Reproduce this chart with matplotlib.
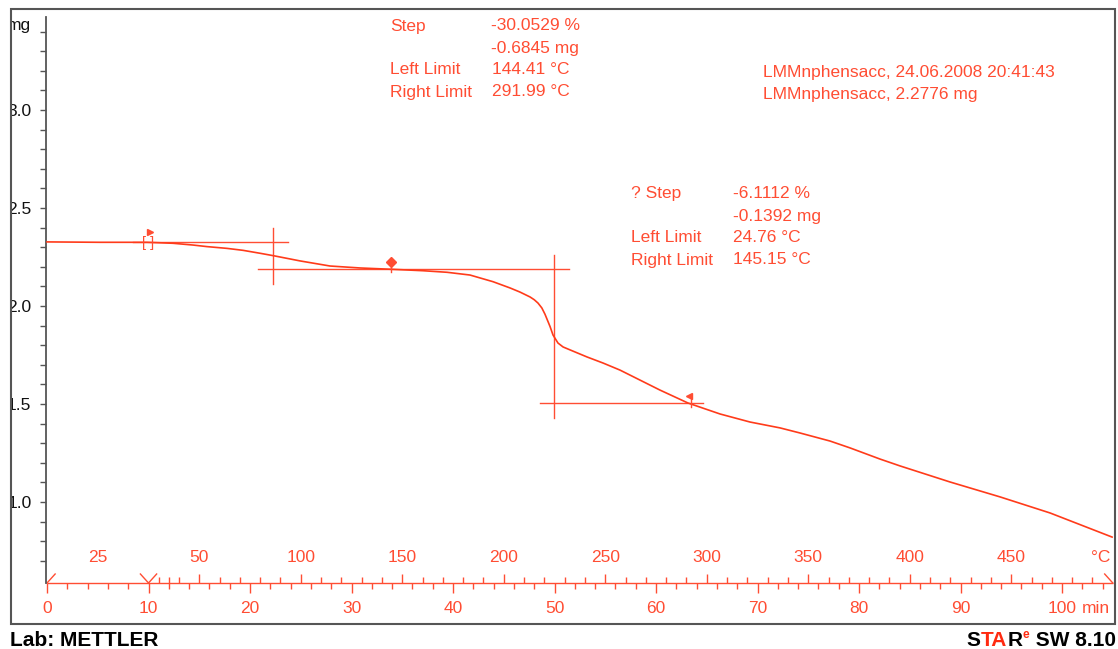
import numpy as np
import matplotlib
matplotlib.use("Agg")
import matplotlib.pyplot as plt
from matplotlib.patches import Rectangle
from matplotlib.ticker import FixedLocator
import matplotlib.transforms as mtransforms

plt.rcParams['font.family'] = ['Liberation Sans', 'DejaVu Sans']

# ---- TGA measurement: time (min) vs sample mass (mg) ----
time_min = [0.0, 5.22, 9.85, 12.41, 14.38, 15.76, 17.73, 19.31, 20.99, 22.27,
            23.65, 24.93, 27.88, 30.84, 34.09, 37.04, 39.41, 41.67, 43.94, 45.62,
            46.60, 47.59, 48.00, 48.37, 48.75, 49.06, 49.56, 49.85, 50.34, 50.84,
            51.53, 53.20, 54.78, 56.45, 58.42, 60.39, 63.15, 66.31, 69.26, 72.22,
            74.19, 77.14, 79.11, 82.07, 84.04, 88.97, 93.89, 98.82, 104.93]
mass_mg = [2.327, 2.325, 2.325, 2.320, 2.311, 2.303, 2.294, 2.284, 2.269, 2.257,
           2.243, 2.230, 2.204, 2.194, 2.187, 2.180, 2.172, 2.158, 2.124, 2.092,
           2.071, 2.046, 2.032, 2.015, 1.990, 1.958, 1.895, 1.852, 1.811, 1.791,
           1.776, 1.740, 1.709, 1.673, 1.622, 1.571, 1.505, 1.449, 1.408, 1.378,
           1.352, 1.311, 1.276, 1.219, 1.184, 1.102, 1.026, 0.944, 0.821]

# temperature program: isothermal 25 °C for 10 min, then 5 K/min
iso_temp_c = 25.0
iso_end_min = 10.0
heating_rate = 5.0
segment_bounds_min = [0.0, 10.0, 105.0]

temp_major_c = [50, 100, 150, 200, 250, 300, 350, 400, 450]
temp_minor_c = [30, 35, 40] + [t for t in range(60, 500, 10) if t % 50]

time_major = list(range(0, 101, 10))
time_labels = [str(v) for v in time_major]
mass_major = [1.0, 1.5, 2.0, 2.5, 3.0]
mass_labels = ['1.0', '1.5', '2.0', '2.5', '3.0']
mass_minor = [round(0.7 + 0.1 * i, 1) for i in range(28)]
mass_unit_tick = 3.4

# step evaluations
sample_mass = 2.2776
step1_pct, step1_mg = -6.1112, -0.1392
step1_left_c, step1_right_c = 24.76, 145.15
step2_pct, step2_mg = -30.0529, -0.6845
step2_left_c, step2_right_c = 144.41, 291.99
level_start = 2.329
level_mid = level_start + step1_mg
level_end = level_mid + step2_mg
step1_top_span = [8.5, 23.7]
step1_mid_span = [20.8, 51.4]
step2_low_span = [48.6, 64.6]
step1_vert_t, step1_vert_span = 22.3, [2.398, 2.112]
step2_vert_t, step2_vert_span = 49.95, [2.260, 1.429]

CURVE = '#ff3b1a'
RED = '#ff4d33'
GREY = '#555555'
FS = 12.5

W, H = 1118, 649
fig = plt.figure(figsize=(W / 100, H / 100), dpi=100)
fig.patch.set_facecolor('white')


def fx(px):
    return px / W


def fy(py):
    return 1 - py / H


def temp_to_time(T):
    return iso_end_min + (np.asarray(T, dtype=float) - iso_temp_c) / heating_rate


ax = fig.add_axes([fx(46), fy(583), fx(1113) - fx(46), fy(17) - fy(583)])
ax.set_xlim(-0.1, 105.02)
ax.set_ylim(0.5867, 3.4745)
ax.set_facecolor('none')
for s in ('top', 'right', 'bottom'):
    ax.spines[s].set_visible(False)
ax.spines['left'].set_color(GREY)
ax.spines['left'].set_linewidth(1.3)

# y axis
ax.yaxis.set_major_locator(FixedLocator(mass_major + [mass_unit_tick]))
ax.set_yticklabels(mass_labels + [''])
ax.yaxis.set_minor_locator(FixedLocator(mass_minor))
ax.tick_params(axis='y', which='both', direction='out', length=4.5, width=1.0,
               color=GREY, labelsize=FS, labelcolor='#111111', pad=6.0)
ax.annotate('mg', xy=(0, mass_unit_tick), xycoords=('axes fraction', 'data'),
            xytext=(-10.5, 4.5), textcoords='offset points', ha='right', va='center',
            fontsize=FS, color='#111111')

# time axis (bottom, ticks downward)
xaxis_tf = ax.get_xaxis_transform()
ax.plot([segment_bounds_min[0], segment_bounds_min[-1]], [0, 0], color=RED, lw=1.0,
        transform=xaxis_tf, clip_on=False, solid_capstyle='butt')
ax.xaxis.set_major_locator(FixedLocator(time_major))
ax.set_xticklabels(time_labels)
ax.xaxis.set_minor_locator(FixedLocator(list(range(0, 105, 2))))
ax.tick_params(axis='x', which='major', direction='out', length=7.2, width=1.0,
               color=RED, labelsize=FS, labelcolor=RED, pad=5.5)
ax.tick_params(axis='x', which='minor', direction='out', length=4.3, width=1.0, color=RED)
ax.annotate('min', xy=(100, 0), xycoords=('data', 'axes fraction'),
            xytext=(14.4, -12.7), textcoords='offset points', ha='left', va='top',
            fontsize=FS, color=RED)

# temperature ticks (upward) and labels
ax_h_px = 583 - 17
maj_t = temp_to_time(temp_major_c)
min_t = temp_to_time(temp_minor_c)
ax.vlines(maj_t, 0, 9 / ax_h_px, color=RED, lw=1.0, transform=xaxis_tf, clip_on=False)
ax.vlines(min_t, 0, 6 / ax_h_px, color=RED, lw=1.0, transform=xaxis_tf, clip_on=False)
lab_y = 26 / ax_h_px
for T, t in zip(temp_major_c, maj_t):
    ax.text(t, lab_y, str(T), transform=xaxis_tf, ha='center', va='center',
            fontsize=FS, color=RED)
ax.text(np.mean(segment_bounds_min[:2]), lab_y, f'{iso_temp_c:.0f}', transform=xaxis_tf,
        ha='center', va='center', fontsize=FS, color=RED)
ax.text(103.8, lab_y, '°C', transform=xaxis_tf, ha='center', va='center',
        fontsize=FS, color=RED)

# segment boundary marks on the time axis
hook_t = 0.8
hook_h = 9 / ax_h_px
s0, s1, s2 = segment_bounds_min
ax.plot([s0, s0 + hook_t], [0, hook_h], color=RED, lw=1.0, transform=xaxis_tf, clip_on=False)
ax.plot([s1 - hook_t, s1, s1 + hook_t], [hook_h, 0, hook_h], color=RED, lw=1.0,
        transform=xaxis_tf, clip_on=False)
ax.plot([s2 - hook_t, s2], [hook_h, 0], color=RED, lw=1.0, transform=xaxis_tf, clip_on=False)

# step evaluation construction lines
lkw = dict(color=RED, lw=1.0, zorder=2)
ax.plot(step1_top_span, [level_start] * 2, **lkw)
ax.plot([step1_vert_t] * 2, step1_vert_span, **lkw)
ax.plot(step1_mid_span, [level_mid] * 2, **lkw)
ax.plot([step2_vert_t] * 2, step2_vert_span, **lkw)
ax.plot(step2_low_span, [level_end] * 2, **lkw)

# TGA curve
ax.plot(time_min, mass_mg, color=CURVE, lw=1.2, zorder=3, solid_joinstyle='round')


def off(dx, dy):
    return mtransforms.offset_copy(ax.transData, fig=fig, x=dx, y=dy, units='dots')


# limit markers
t_l1 = float(temp_to_time(step1_left_c))
m_l1 = float(np.interp(t_l1, time_min, mass_mg))
ax.text(t_l1, m_l1, '[ ]', transform=off(0, -1), ha='center', va='center',
        fontsize=10.5, color=RED, zorder=4)
ax.plot([t_l1], [m_l1], marker='>', ms=5, color=RED, mec=RED, transform=off(2, 10), zorder=4)

t_l2 = float(temp_to_time(step2_left_c))
m_l2 = float(np.interp(t_l2, time_min, mass_mg))
ax.plot([t_l2, t_l2], [m_l2, m_l2 + 0.045], color=RED, lw=1.0, transform=off(0, -3), zorder=4)
ax.plot([t_l2], [m_l2], marker='D', ms=5, color=RED, mec=RED, transform=off(0, 7), zorder=4)

t_r2 = float(temp_to_time(step2_right_c))
m_r2 = float(np.interp(t_r2, time_min, mass_mg))
ax.plot([t_r2, t_r2], [m_r2, m_r2 + 0.06], color=RED, lw=1.0, transform=off(0, -3), zorder=4)
ax.plot([t_r2], [m_r2], marker='<', ms=5, color=RED, mec=RED, transform=off(-2, 8), zorder=4)


# annotation blocks
def ftext(px, py, s, **kw):
    fig.text(fx(px), fy(py), s, ha='left', va='center', fontsize=FS, color=RED, **kw)


ftext(390, 26, 'Step')
ftext(491, 26, f'{step2_pct:.4f} %')
ftext(491, 48, f'{step2_mg:.4f} mg')
ftext(390, 70, 'Left Limit')
ftext(492, 70, f'{step2_left_c:.2f} °C')
ftext(390, 92, 'Right Limit')
ftext(492, 92, f'{step2_right_c:.2f} °C')

ftext(763, 72, 'LMMnphensacc, 24.06.2008 20:41:43')
ftext(763, 94, f'LMMnphensacc, {sample_mass:.4f} mg')

ftext(631, 194, '? Step')
ftext(733, 194, f'{step1_pct:.4f} %')
ftext(733, 216, f'{step1_mg:.4f} mg')
ftext(631, 238, 'Left Limit')
ftext(733, 238, f'{step1_left_c:.2f} °C')
ftext(631, 260, 'Right Limit')
ftext(733, 260, f'{step1_right_c:.2f} °C')

# outer frame
fig.patches.append(Rectangle((0, 0), fx(11), 1, transform=fig.transFigure,
                             facecolor='white', edgecolor='none', zorder=20))
fig.patches.append(Rectangle((fx(11), fy(624)), fx(1115) - fx(11), fy(9) - fy(624),
                             transform=fig.transFigure, facecolor='none',
                             edgecolor=GREY, lw=1.5, zorder=21))

# footer
fig.text(fx(10), fy(640), 'Lab: METTLER', ha='left', va='center', fontsize=15,
         fontweight='bold', color='black')

fig.canvas.draw()
renderer = fig.canvas.get_renderer()
pieces = [('S', 'black', 15, 0), ('TA', '#ff2a10', 15, 0), ('R', 'black', 15, 0),
          ('e', '#ff2a10', 8.5, 5), (' SW 8.10', 'black', 15, 0)]
x_right = 1116
for txt, col, fs, rise in reversed(pieces):
    t = fig.text(fx(x_right), fy(640 - rise), txt, ha='right', va='center',
                 fontsize=fs, fontweight='bold', color=col)
    bb = t.get_window_extent(renderer)
    x_right -= bb.width + 0.5

fig.savefig('out.png', dpi=100, facecolor='white')
